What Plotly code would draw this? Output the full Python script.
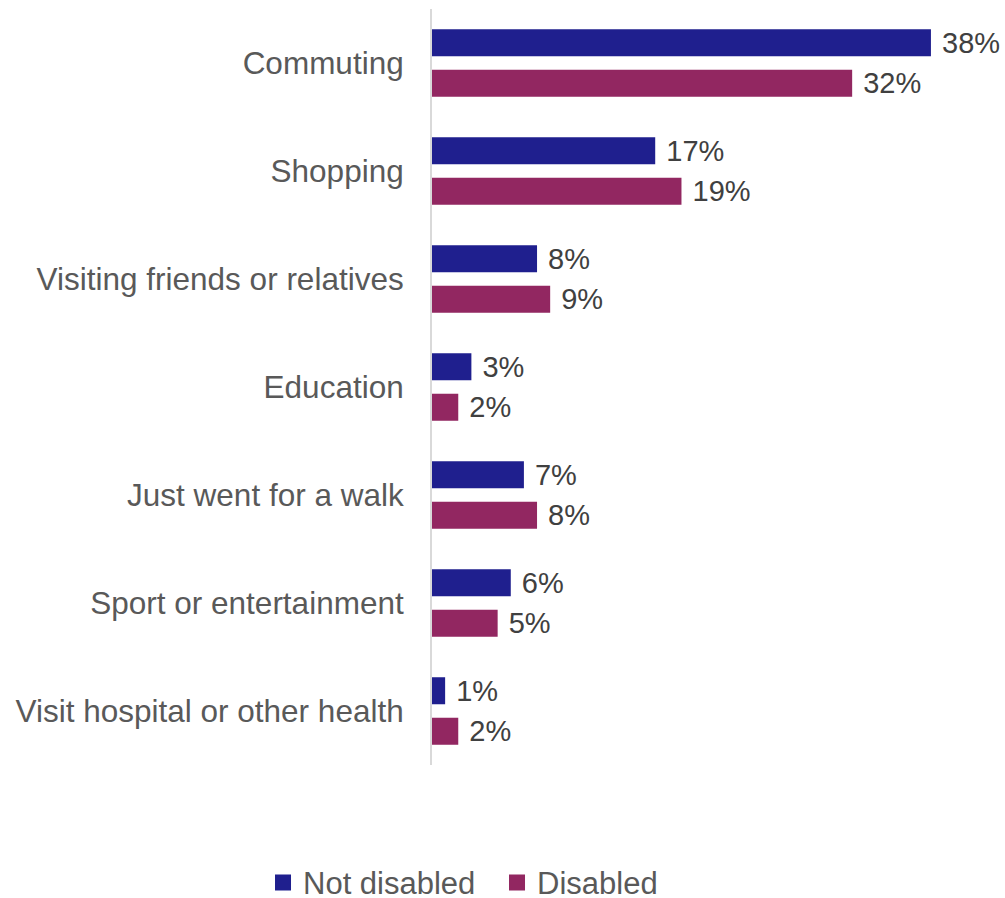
import plotly.graph_objects as go

# Trip purposes and share of trips (%) by disability status
purposes = [
    "Commuting",
    "Shopping",
    "Visiting friends or relatives",
    "Education",
    "Just went for a walk",
    "Sport or entertainment",
    "Visit hospital or other health",
]
not_disabled = [38, 17, 8, 3, 7, 6, 1]
disabled = [32, 19, 9, 2, 8, 5, 2]

NAVY = "#1F1F8E"
PLUM = "#922761"
FONT = "Arial"

fig = go.Figure()
for name, vals, col in [
    ("Not disabled", not_disabled, NAVY),
    ("Disabled", disabled, PLUM),
]:
    fig.add_trace(
        go.Bar(
            name=name,
            x=vals,
            y=purposes,
            orientation="h",
            marker=dict(color=col, line=dict(width=0)),
            texttemplate=" %{x}%",
            textposition="outside",
            constraintext="none",
            textfont=dict(family=FONT, size=29, color="#404040"),
            cliponaxis=False,
            legendgroup=name,
            showlegend=False,
        )
    )
    # legend entry with a larger square swatch
    fig.add_trace(
        go.Scatter(
            name=name,
            x=[None],
            y=[None],
            mode="markers",
            marker=dict(symbol="square", size=18, color=col),
            legendgroup=name,
            showlegend=True,
        )
    )

fig.update_layout(
    width=1005,
    height=898,
    barmode="group",
    bargap=0.25,
    bargroupgap=0.333,
    plot_bgcolor="white",
    paper_bgcolor="white",
    margin=dict(l=432, r=5, t=9, b=133),
    font=dict(family=FONT, color="#595959"),
    showlegend=True,
    legend=dict(
        orientation="h",
        xref="container",
        yref="container",
        x=0.2617,
        xanchor="left",
        y=0.017,
        yanchor="middle",
        font=dict(family=FONT, size=31, color="#595959"),
        itemwidth=30,
        entrywidth=189,
        entrywidthmode="pixels",
    ),
    xaxis=dict(
        visible=False,
        range=[0, 43.26],
        showgrid=False,
        zeroline=False,
    ),
    yaxis=dict(
        autorange="reversed",
        showline=True,
        linecolor="#D9D9D9",
        linewidth=2,
        showgrid=False,
        zeroline=False,
        ticks="",
        ticklabelstandoff=20,
        tickfont=dict(family=FONT, size=31.5, color="#595959"),
    ),
)

fig.write_html("out.html")
